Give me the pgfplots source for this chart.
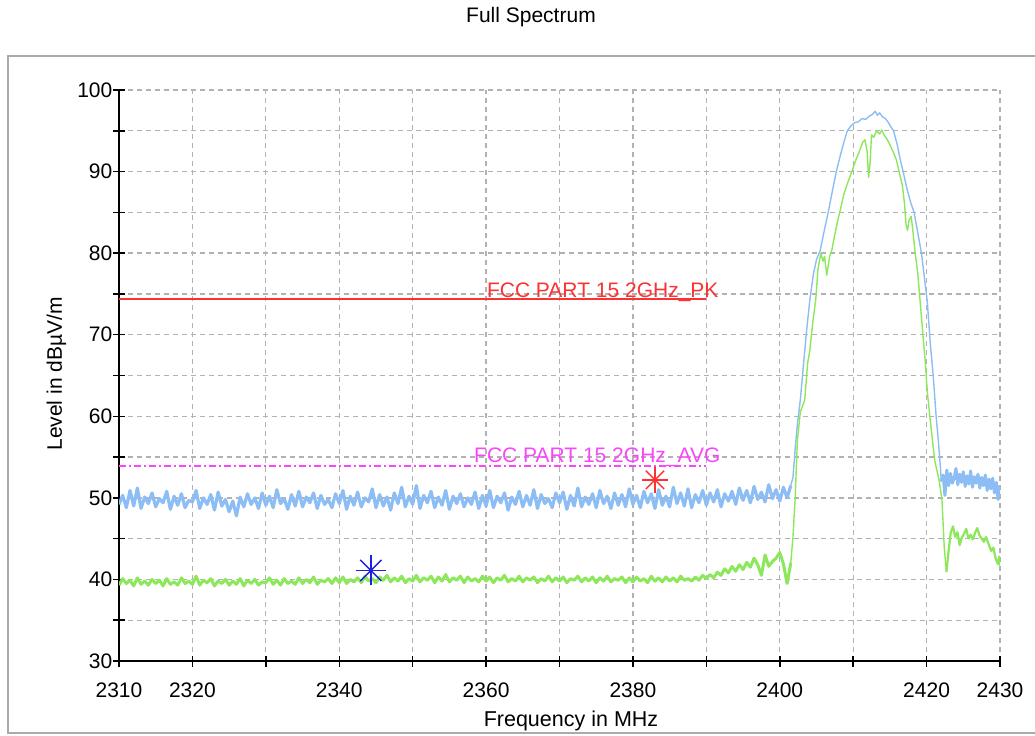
\documentclass[border=0pt]{standalone}
\usepackage{pgfplots}
\pgfplotsset{compat=1.18}
\usepackage{pgfplotstable}
\usepackage{fontspec}
\setmainfont{Liberation Sans}
\definecolor{tblue}{RGB}{140,190,245}
\definecolor{tgreen}{RGB}{140,232,90}
\definecolor{lred}{RGB}{250,50,50}
\definecolor{lmag}{RGB}{250,70,250}
\definecolor{mblue}{RGB}{30,30,225}
\definecolor{gridc}{RGB}{178,178,178}
\definecolor{framec}{RGB}{170,170,170}

% Peak trace, 2310 ... 2401.5 MHz, step 0.5 MHz
\pgfplotstableread[row sep=\\]{y\\
49.2\\50.3\\48.8\\50.9\\49.0\\51.2\\48.7\\50.1\\49.3\\50.6\\
48.9\\49.9\\49.4\\50.8\\48.6\\50.2\\49.1\\50.5\\48.8\\49.7\\
49.5\\50.9\\48.7\\50.0\\49.2\\50.4\\48.5\\50.7\\49.0\\49.8\\
48.3\\49.6\\47.8\\50.1\\48.9\\50.5\\49.2\\50.0\\48.7\\50.6\\
49.1\\50.2\\48.8\\51.0\\49.3\\49.9\\48.6\\50.4\\49.0\\50.8\\
48.9\\50.1\\49.4\\50.6\\48.7\\50.3\\49.2\\49.8\\48.8\\50.5\\
49.3\\50.9\\48.6\\50.2\\49.1\\50.7\\48.9\\50.0\\49.5\\51.1\\
48.8\\50.4\\49.0\\50.1\\48.5\\50.6\\49.3\\51.3\\48.9\\50.2\\
49.2\\51.5\\48.7\\50.3\\49.4\\50.8\\48.8\\50.1\\49.1\\50.9\\
48.6\\50.2\\49.3\\50.5\\48.9\\50.0\\49.2\\50.7\\48.7\\50.3\\
49.0\\50.9\\48.8\\50.2\\49.4\\50.6\\48.5\\50.1\\49.2\\50.8\\
48.9\\50.3\\49.1\\51.0\\48.7\\50.4\\49.3\\49.9\\48.8\\50.6\\
49.4\\50.7\\48.6\\50.3\\49.0\\51.2\\48.9\\50.1\\49.2\\50.5\\
48.8\\50.9\\49.3\\50.2\\48.7\\50.6\\49.1\\50.4\\48.9\\51.1\\
49.2\\50.3\\48.8\\50.8\\49.4\\50.5\\48.7\\51.0\\49.1\\50.2\\
48.9\\51.3\\49.3\\50.6\\49.0\\51.1\\48.8\\50.4\\49.4\\50.9\\
49.1\\50.6\\49.5\\51.0\\48.9\\50.5\\49.6\\50.8\\49.2\\51.2\\
49.7\\50.9\\49.4\\51.4\\49.8\\50.7\\49.5\\51.6\\49.9\\51.0\\
49.6\\51.3\\50.0\\51.5\\
}\bluenoise

% Average trace, 2310 ... 2401.5 MHz, step 0.5 MHz
\pgfplotstableread[row sep=\\]{y\\
39.3\\40.1\\39.5\\39.9\\39.2\\40.2\\39.4\\39.8\\39.3\\40.0\\
39.5\\39.9\\39.2\\40.1\\39.4\\39.7\\39.3\\40.2\\39.5\\39.8\\
39.4\\40.4\\39.3\\39.9\\39.6\\40.1\\39.2\\39.8\\39.5\\40.0\\
39.3\\39.8\\39.4\\40.1\\39.2\\39.9\\39.5\\40.0\\39.3\\39.7\\
39.6\\40.2\\39.4\\39.9\\39.3\\40.1\\39.5\\39.8\\39.4\\40.2\\
39.5\\40.0\\39.6\\40.3\\39.4\\39.9\\39.7\\40.1\\39.5\\40.2\\
39.6\\40.3\\39.5\\40.0\\39.7\\40.2\\39.6\\40.4\\39.8\\40.1\\
39.6\\40.3\\39.9\\40.5\\39.7\\40.2\\39.8\\40.4\\39.6\\40.1\\
39.8\\40.5\\39.7\\40.2\\39.9\\40.4\\39.6\\40.3\\39.8\\40.6\\
39.7\\40.2\\39.9\\40.4\\39.6\\40.3\\39.8\\40.1\\39.7\\40.4\\
39.8\\40.3\\39.6\\40.2\\39.9\\40.5\\39.7\\40.1\\39.8\\40.4\\
39.7\\40.2\\39.9\\40.3\\39.6\\40.1\\39.8\\40.4\\39.7\\40.2\\
39.8\\40.3\\39.6\\40.1\\39.9\\40.4\\39.7\\40.2\\39.8\\40.3\\
39.6\\40.2\\39.8\\40.4\\39.7\\40.1\\39.9\\40.3\\39.6\\40.2\\
39.7\\40.3\\39.8\\40.1\\39.6\\40.4\\39.8\\40.2\\39.7\\40.3\\
39.8\\40.2\\39.7\\40.4\\39.9\\40.1\\39.8\\40.3\\39.9\\40.5\\
40.1\\40.6\\40.2\\40.9\\40.5\\41.3\\40.8\\41.6\\41.0\\41.8\\
41.2\\42.1\\41.5\\42.6\\41.8\\40.5\\43.0\\41.6\\42.2\\42.6\\
43.3\\41.9\\39.5\\42.0\\
}\greennoise

\begin{document}
\begin{tikzpicture}
\path[use as bounding box] (-119bp,-75bp) rectangle (916bp,661bp);
\draw[framec, line width=2bp] (930bp,605bp) -- (-111bp,605bp) -- (-111bp,-72bp) -- (930bp,-72bp);
\node[anchor=base, font=\fontsize{21bp}{25bp}\selectfont] at (412bp,638bp) {Full Spectrum};
\node[anchor=base, font=\fontsize{21.5bp}{25bp}\selectfont] at (452bp,-65bp) {Frequency in MHz};
\node[anchor=base, rotate=90, font=\fontsize{21bp}{25bp}\selectfont] at (-57bp,287bp) {Level in dBµV/m};
\begin{axis}[at={(0,0)}, anchor=south west, scale only axis, width=881bp, height=571bp,
  xmin=2310, xmax=2430, ymin=30, ymax=100,
  axis lines=left, axis line style={-, line width=1.6bp, black},
  xtick={2310,2320,...,2430},
  xticklabels={2310,2320,,2340,,2360,,2380,,2400,,2420,2430},
  ytick={30,35,...,100},
  yticklabels={30,,40,,50,,60,,70,,80,,90,,100},
  tick align=center, major tick length=11bp, tick style={black, line width=1.5bp},
  grid=major, major grid style={gridc, line width=1.3bp, dash pattern=on 5bp off 4bp},
  ticklabel style={font=\fontsize{21bp}{25bp}\selectfont, /pgf/number format/assume math mode=true},
  xticklabel style={anchor=north, inner sep=0pt, yshift=-16bp},
  yticklabel style={anchor=east, inner sep=0pt, xshift=-1bp},
]
% peak trace
\addplot[tblue, line width=3.2bp, line join=round] table[x expr=2310+0.5*\coordindex, y=y] {\bluenoise};
\addplot[tblue, line width=1.4bp, line join=round] coordinates {
(2401.5,51.5) (2401.8,52.5) (2402.1,56) (2402.4,59) (2402.8,62) (2403.2,66) (2403.6,70)
(2404.1,74.3) (2404.6,77.5) (2405.0,79.2) (2405.5,80.3) (2406.0,82.5) (2406.6,85)
(2407.1,87.3) (2407.7,90) (2408.2,91.8) (2408.7,93.5) (2409.2,95) (2409.7,95.6)
(2410.2,96) (2410.7,96.1) (2411.2,96.5) (2411.7,96.4) (2412.2,96.8) (2412.6,97.0)
(2413.0,97.4) (2413.3,96.9) (2413.6,97.2) (2414.0,96.7) (2414.4,96.5) (2414.8,96.0)
(2415.2,95.4) (2415.5,95) (2416.0,93.3) (2416.4,91.5) (2416.8,90) (2417.3,88)
(2417.8,86.3) (2418.3,85) (2418.8,82.5) (2419.3,80) (2419.7,77) (2420.1,74)
(2420.5,69) (2420.9,65) (2421.3,60) (2421.6,57) (2421.9,53.5) (2422.0,52)};
\addplot[tblue, line width=3.0bp, line join=round] coordinates {
(2422.0,52) (2422.25,52.8) (2422.5,50.3) (2422.75,53.4) (2423.0,51.5) (2423.25,53.0) (2423.5,51.8)
(2423.75,52.4) (2424.0,53.6) (2424.25,51.6) (2424.5,52.9) (2424.75,51.9) (2425.0,53.2)
(2425.25,51.4) (2425.5,52.7) (2425.75,51.7) (2426.0,53.3) (2426.25,51.3) (2426.5,52.6)
(2426.75,51.8) (2427.0,52.9) (2427.25,51.2) (2427.5,52.5) (2427.75,51.5) (2428.0,52.8)
(2428.25,50.9) (2428.5,52.3) (2428.75,51.1) (2429.0,52.4) (2429.25,50.6) (2429.5,51.9)
(2429.75,49.8) (2430.0,51.5)};
% average trace
\addplot[tgreen, line width=3.0bp, line join=round] table[x expr=2310+0.5*\coordindex, y=y] {\greennoise};
\addplot[tgreen, line width=1.4bp, line join=round] coordinates {
(2401.5,42.0) (2401.8,45.2) (2402.1,50) (2402.4,57) (2402.8,60.5) (2403.4,62)
(2403.8,66.5) (2404.1,68.1) (2404.5,71.5) (2404.9,74.3) (2405.2,78.0) (2405.6,80.0)
(2405.9,79.0) (2406.1,79.6) (2406.4,77.3) (2406.8,79.6) (2407.1,80.4) (2407.5,82.3)
(2407.9,84) (2408.3,85.5) (2408.7,87.1) (2409.2,88.5) (2409.9,90.2) (2410.4,91.5)
(2410.9,92.6) (2411.3,93.6) (2411.6,93.9) (2411.9,92.5) (2412.1,89.3) (2412.3,91.0)
(2412.5,94.5) (2412.8,94.2) (2413.2,95.0) (2413.6,94.6) (2413.9,95.1) (2414.2,94.5)
(2414.6,94.0) (2415.0,93.3) (2415.5,92.3) (2415.9,91.4) (2416.3,89.8) (2416.7,88.3)
(2417.0,86.0) (2417.2,83.5) (2417.4,82.8) (2417.6,84.0) (2417.9,84.5) (2418.1,83.0)
(2418.4,80.4) (2418.8,77.5) (2419.1,74.3) (2419.5,70) (2419.8,66.9) (2420.1,63)
(2420.5,59.5) (2421.1,54.6) (2421.7,52.2) (2422.1,49.7) (2422.4,44) (2422.7,40.9)};
\addplot[tgreen, line width=2.2bp, line join=round] coordinates {
(2422.7,40.9)
(2423.0,43.5) (2423.3,45.8) (2423.6,46.5) (2423.9,45.2) (2424.2,45.8) (2424.5,44.2)
(2424.8,45.1) (2425.1,45.6) (2425.4,46.2) (2425.7,45.0) (2426.0,45.5) (2426.3,44.9)
(2426.6,45.7) (2426.9,46.3) (2427.2,45.4) (2427.5,45.0) (2427.8,44.6) (2428.1,45.2)
(2428.5,44.2) (2428.8,43.5) (2429.1,43.9) (2429.4,42.6) (2429.7,41.9) (2429.9,42.8)
(2430.0,41.5)};
% limit lines
\addplot[lred, line width=2.5bp] coordinates {(2310,74.4) (2390,74.4)};
\addplot[lmag, line width=1.5bp, dash pattern=on 7bp off 3bp on 2bp off 3bp] coordinates {(2310,53.9) (2390,53.9)};
\node[anchor=base west, text=lred, inner sep=0pt, font=\fontsize{21bp}{25bp}\selectfont] at (axis cs:2360.1,74.6) {FCC PART 15 2GHz\_PK};
\node[anchor=base west, text=lmag, inner sep=0pt, font=\fontsize{21bp}{25bp}\selectfont] at (axis cs:2358.35,54.3) {FCC PART 15 2GHz\_AVG};
% markers
\addplot[only marks, mark=+, mark size=13bp, mark options={draw=lred, line width=1.4bp}] coordinates {(2383.0,52.2)};
\addplot[only marks, mark=x, mark size=13bp, mark options={draw=lred, line width=1.4bp}] coordinates {(2383.0,52.2)};
\addplot[only marks, mark=+, mark size=15bp, mark options={draw=mblue, line width=1.4bp}] coordinates {(2344.3,41.1)};
\addplot[only marks, mark=x, mark size=15bp, mark options={draw=mblue, line width=1.4bp}] coordinates {(2344.3,41.1)};
\end{axis}
\end{tikzpicture}
\end{document}
